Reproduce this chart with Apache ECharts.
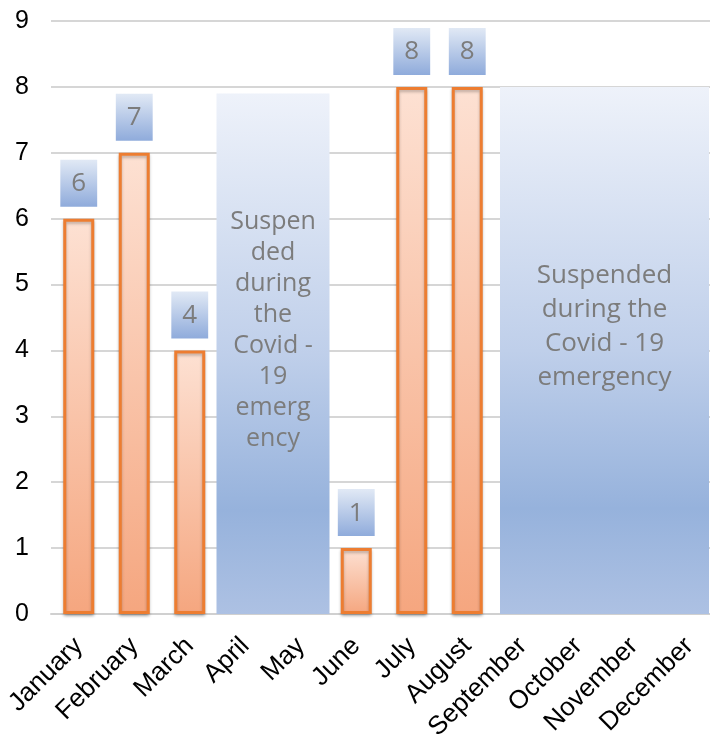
<!DOCTYPE html>
<html>
<head>
<meta charset="utf-8">
<style>
  html, body { margin: 0; padding: 0; background: #ffffff; overflow: hidden; }
  #chart { width: 710px; height: 745px; }
</style>
<script src="https://cdn.jsdelivr.net/npm/echarts@6/dist/echarts.min.js"></script>
</head>
<body>
<div id="chart"></div>
<script>
// Monthly counts; null where activity was suspended
var months = ['January', 'February', 'March', 'April', 'May', 'June',
              'July', 'August', 'September', 'October', 'November', 'December'];
var counts = [6, 7, 4, null, null, 1, 8, 8, null, null, null, null];

// Suspension periods: first month index, last month index, box height, caption
var suspendStart = [3, 8];
var suspendEnd = [4, 11];
var suspendTop = [7.9, 8];
var suspendText = [
  'Suspen\nded\nduring\nthe\nCovid -\n19\nemerg\nency',
  'Suspended\nduring the\nCovid - 19\nemergency'
];

var yTicks = [0, 1, 2, 3, 4, 5, 6, 7, 8, 9];

var chart = echarts.init(document.getElementById('chart'), null, { renderer: 'canvas' });

var suspendData = suspendStart.map(function (s, i) {
  return [s, suspendEnd[i], suspendTop[i], i];
});

var boxFill = new echarts.graphic.LinearGradient(0, 0, 0, 1, [
  { offset: 0, color: '#eef2fa' },
  { offset: 0.5, color: '#bfcfea' },
  { offset: 0.8, color: '#96b2dc' },
  { offset: 1, color: '#adc1e3' }
]);

var option = {
  backgroundColor: '#ffffff',
  animation: false,
  grid: {
    left: 51, width: 666, top: 21, bottom: 131,
    containLabel: false,
    outerBoundsMode: 'none'
  },
  xAxis: {
    type: 'category',
    data: months,
    axisTick: { show: false },
    axisLine: { show: true, lineStyle: { color: '#d0d0d0', width: 2 } },
    axisLabel: {
      rotate: 45,
      interval: 0,
      margin: 28,
      color: '#000000',
      fontSize: 26,
      fontFamily: 'Liberation Sans, Arial, sans-serif'
    }
  },
  yAxis: {
    type: 'value',
    min: yTicks[0],
    max: yTicks[yTicks.length - 1],
    interval: 1,
    axisLine: { show: false },
    axisTick: { show: false },
    splitLine: { lineStyle: { color: '#d6d6d6', width: 2 } },
    axisLabel: {
      margin: 22,
      color: '#000000',
      fontSize: 25,
      fontFamily: 'Liberation Sans, Arial, sans-serif'
    }
  },
  series: [
    {
      type: 'custom',
      z: 1,
      encode: { x: [0, 1], y: 2 },
      data: suspendData,
      renderItem: function (params, api) {
        var band = api.size([1, 0])[0];
        var left = api.coord([api.value(0), 0])[0] - band / 2;
        var right = api.coord([api.value(1), 0])[0] + band / 2;
        var bottom = api.coord([api.value(0), 0])[1];
        var top = api.coord([api.value(0), api.value(2)])[1];
        var idx = api.value(3);
        var wide = (api.value(1) - api.value(0)) > 1;
        if (wide) { left += 5; right -= 8; } else { left -= 1; right += 1; }
        var cx = (left + right) / 2;
        var cy = bottom - (bottom - top) * 0.545;
        return {
          type: 'group',
          children: [
            {
              type: 'rect',
              shape: { x: left, y: top, width: right - left, height: bottom - top },
              style: { fill: boxFill }
            },
            {
              type: 'text',
              style: {
                text: suspendText[idx],
                x: cx,
                y: cy,
                align: 'center',
                verticalAlign: 'middle',
                fill: '#7c7c7c',
                fontSize: wide ? 26 : 25,
                lineHeight: wide ? 34 : 31,
                fontFamily: 'Open Sans, sans-serif'
              }
            }
          ]
        };
      }
    },
    {
      type: 'bar',
      z: 2,
      data: counts,
      barWidth: 31,
      itemStyle: {
        color: new echarts.graphic.LinearGradient(0, 0, 0, 1, [
          { offset: 0, color: '#fde1d3' },
          { offset: 1, color: '#f5a67f' }
        ]),
        borderColor: '#ed7d31',
        borderWidth: 3,
        shadowColor: 'rgba(0,0,0,0.25)',
        shadowBlur: 3,
        shadowOffsetY: 2
      },
      label: {
        show: true,
        position: 'top',
        distance: 12,
        formatter: '{c}',
        color: '#7c7c7c',
        fontSize: 26,
        lineHeight: 28,
        fontFamily: 'Open Sans, sans-serif',
        padding: [10, 11, 9, 11],
        backgroundColor: new echarts.graphic.LinearGradient(0, 0, 0, 1, [
          { offset: 0, color: '#e1e9f5' },
          { offset: 1, color: '#8fabdb' }
        ])
      }
    }
  ]
};

chart.setOption(option);
</script>
</body>
</html>
